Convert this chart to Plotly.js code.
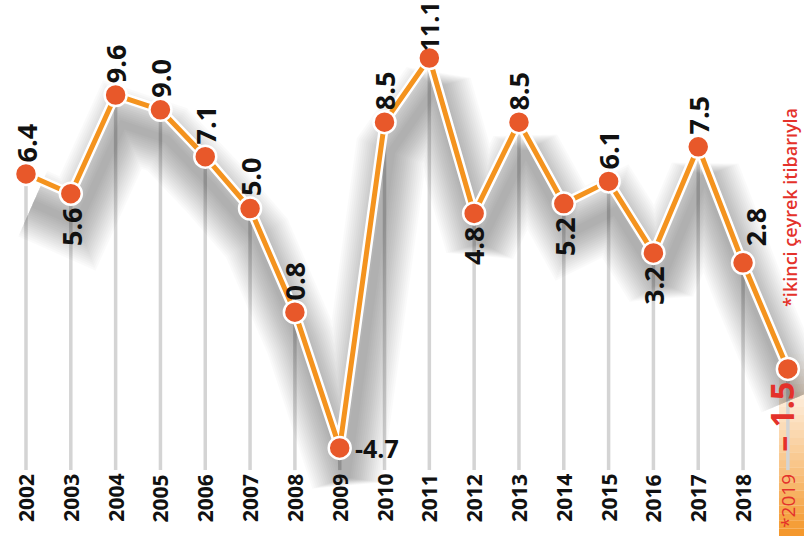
<!DOCTYPE html>
<html>
<head>
<meta charset="utf-8">
<script src="https://cdn.plot.ly/plotly-3.0.1.min.js"></script>
<style>html,body{margin:0;padding:0;background:#fff;}#chart{width:804px;height:536px;}</style>
</head>
<body>
<div id="chart"></div>
<script>
// ---- data ----
const years = [2002,2003,2004,2005,2006,2007,2008,2009,2010,2011,2012,2013,2014,2015,2016,2017,2018,2019];
const growth = [6.4,5.6,9.6,9.0,7.1,5.0,0.8,-4.7,8.5,11.1,4.8,8.5,5.2,6.1,3.2,7.5,2.8,-1.5];
const yearLabels = ['2002','2003','2004','2005','2006','2007','2008','2009','2010','2011','2012','2013','2014','2015','2016','2017','2018','*2019'];
const noteText = '*ikinci çeyrek itibarıyla';

// ---- label placement (style) ----
const labelSide = ['up','down','up','up','up','up','up','right','up','up','down','up','down','up','down','up','upright','down'];

const ORANGE = '#f4931e', DOT = '#e8582a', RED = '#e4322b';
const FONT = '"Open Sans", "Noto Sans", sans-serif';
const dropBase = -5.6;

// drop lines
const dx = [], dy = [];
years.forEach((y,i)=>{ dx.push(y,y,null); dy.push(growth[i], dropBase, null); });

const traces = [
  {x:dx, y:dy, mode:'lines', line:{color:'#d4d4d4', width:3.5}, hoverinfo:'skip'},
];
// soft shadow under the line
for (let w=72; w>=8; w-=4){
  traces.push({x:years.map(y=>y+0.15), y:growth.map(v=>v-1.2), mode:'lines',
    line:{color:'rgba(0,0,0,0.02)', width:w}, hoverinfo:'skip'});
}
traces.push({x:years, y:growth, mode:'lines', line:{color:'#ffffff', width:10}, hoverinfo:'skip'});
traces.push({x:years, y:growth, mode:'lines+markers', line:{color:ORANGE, width:5},
  marker:{size:22, color:DOT, line:{color:'#ffffff', width:2.5}}, hoverinfo:'skip'});

// gradient box behind 2019
const shapes = [];
const N = 24, yTop = 0.34, yBot = 0;
for (let k=0;k<N;k++){
  const y0 = yBot + (yTop-yBot)*k/N, y1 = yBot + (yTop-yBot)*(k+1)/N;
  const a = Math.pow(1 - (k+0.5)/N, 1.2);
  shapes.push({type:'rect', layer:'below', xref:'paper', yref:'paper',
    x0:779/804, x1:1, y0:y0, y1:y1, line:{width:0}, fillcolor:'rgba(244,150,40,'+a.toFixed(3)+')'});
}

const vmax = Math.max(...growth);
const annotations = [];
years.forEach((yr,i)=>{
  const v = growth[i];
  const last = i === years.length-1;
  const txt = last ? '– ' + Math.abs(v).toFixed(1) : v.toFixed(1);
  const side = labelSide[i];
  const a = {x:yr, y:v, xref:'x', yref:'y', text:txt, showarrow:false,
    font:{family:FONT, size:last?32:27, color:last?RED:'#111', weight:700}};
  if (side==='right'){ a.xanchor='left'; a.yanchor='middle'; a.xshift=13; a.font.size=25; }
  else {
    a.textangle=-90; a.xanchor='center';
    if (side==='down'){ a.yanchor='top'; a.yshift=-11; }
    else { a.yanchor='bottom'; a.yshift=10; }
    if (side==='upright'){ a.xshift=12; a.yshift=14; }
    if (last) a.xshift=-6;
    if (v === vmax){ a.font.size=25; a.yshift=5; } // keep top label inside the frame
  }
  annotations.push(a);
  // year tick labels
  annotations.push({x:yr, y:1-472/536, xref:'x', yref:'paper', text:yearLabels[i], showarrow:false,
    textangle:-90, xanchor:'center', yanchor:'top',
    font:{family:FONT, size:last?19:21, color:last?RED:'#111', weight:last?400:700}});
});
annotations.push({x:790/804, y:1-208/536, xref:'paper', yref:'paper', text:noteText, showarrow:false,
  textangle:-90, xanchor:'center', yanchor:'middle', font:{family:FONT, size:18, color:RED, weight:600}});

const layout = {
  width:804, height:536, margin:{l:0,r:0,t:0,b:0},
  paper_bgcolor:'#ffffff', plot_bgcolor:'rgba(0,0,0,0)', showlegend:false,
  xaxis:{range:[2001.42, 2019.36], visible:false, fixedrange:true},
  yaxis:{range:[-8.27, 13.45], visible:false, fixedrange:true},
  shapes:shapes, annotations:annotations
};
Plotly.newPlot('chart', traces, layout, {staticPlot:true, displayModeBar:false});
</script>
</body>
</html>
